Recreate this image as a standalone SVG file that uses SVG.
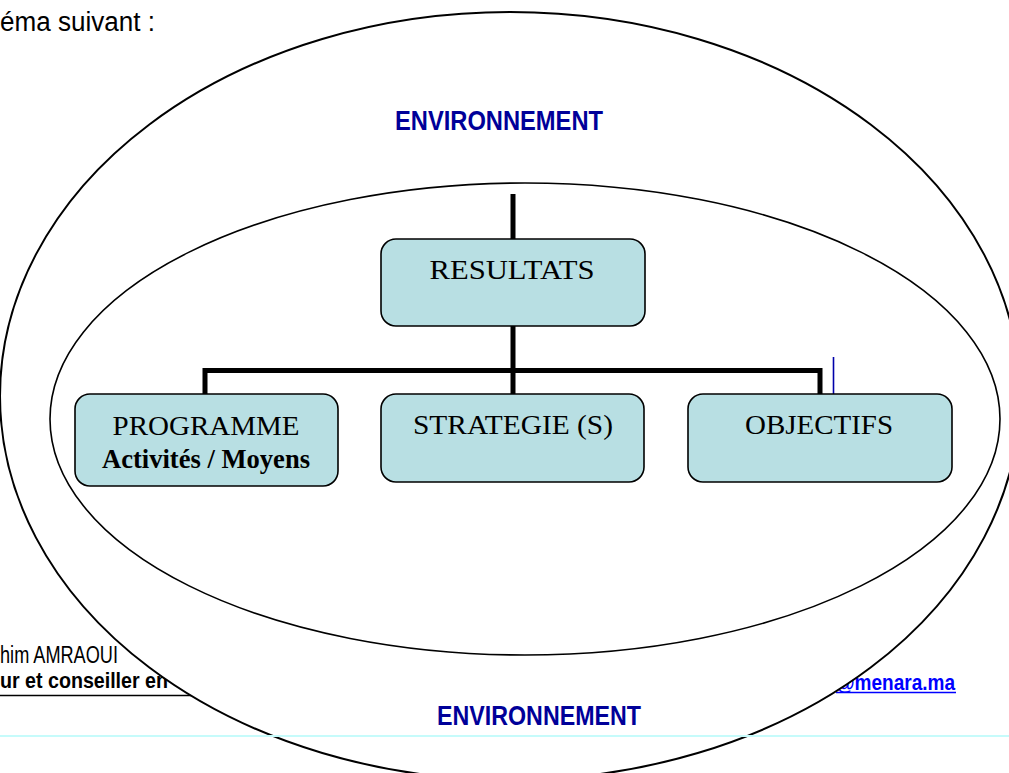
<svg xmlns="http://www.w3.org/2000/svg" width="1009" height="773" viewBox="0 0 1009 773">
<style>
.bg{font-family:"Liberation Sans",Arial,sans-serif;fill:#000}
.env{font-family:"Liberation Sans",Arial,sans-serif;font-weight:bold;font-size:27px;fill:#000099}
.box{fill:#b8dfe3;stroke:#000;stroke-width:1.6}
.lbl{font-family:"Liberation Serif","Times New Roman",serif;font-size:28px;fill:#000;text-anchor:middle}
.conn{stroke:#000;stroke-width:5;fill:none}
</style>
<rect width="1009" height="773" fill="#fff"/>
<g id="page-text">
<text class="bg" x="0" y="31" font-size="27" textLength="155" lengthAdjust="spacingAndGlyphs">éma suivant :</text>
<text class="bg" x="0" y="663" font-size="23" textLength="118" lengthAdjust="spacingAndGlyphs">him AMRAOUI</text>
<text class="bg" x="0" y="688" font-size="22" font-weight="bold" textLength="168" lengthAdjust="spacingAndGlyphs">ur et conseiller en</text>
<line x1="0" y1="695.5" x2="260" y2="695.5" stroke="#000" stroke-width="1.5"/>
<text x="836" y="690" font-family="'Liberation Sans',Arial,sans-serif" font-weight="bold" font-size="22" fill="#0000ff" textLength="119" lengthAdjust="spacingAndGlyphs">@menara.ma</text>
<line x1="836" y1="692.5" x2="956" y2="692.5" stroke="#0000ff" stroke-width="1.5"/>
</g>
<g id="outer-ellipse">
<ellipse cx="510" cy="396" rx="510" ry="384" fill="#fff" stroke="#000" stroke-width="2"/>
</g>
<g id="inner-ellipse">
<ellipse cx="525" cy="419" rx="475" ry="236" fill="none" stroke="#000" stroke-width="1.6"/>
</g>
<g id="connectors">
<line class="conn" x1="513" y1="194" x2="513" y2="240"/>
<line class="conn" x1="513" y1="326" x2="513" y2="394"/>
<polyline class="conn" points="205,394 205,370.5 820,370.5 820,394"/>
<line x1="833.5" y1="357" x2="833.5" y2="399" stroke="#0000aa" stroke-width="1.6"/>
</g>
<g id="resultats">
<rect class="box" x="381" y="239" width="264" height="87" rx="15"/>
<text class="lbl" x="512" y="279" textLength="165" lengthAdjust="spacingAndGlyphs">RESULTATS</text>
</g>
<g id="programme">
<rect class="box" x="75" y="394" width="263" height="92" rx="15"/>
<text class="lbl" x="206" y="435" textLength="187" lengthAdjust="spacingAndGlyphs">PROGRAMME</text>
<text class="lbl" x="206" y="468" font-size="23" font-weight="bold" textLength="208" lengthAdjust="spacingAndGlyphs">Activités / Moyens</text>
</g>
<g id="strategie">
<rect class="box" x="381" y="394" width="263" height="88" rx="15"/>
<text class="lbl" x="513" y="434" textLength="200" lengthAdjust="spacingAndGlyphs">STRATEGIE (S)</text>
</g>
<g id="objectifs">
<rect class="box" x="688" y="394" width="264" height="88" rx="15"/>
<text class="lbl" x="819" y="434" textLength="148" lengthAdjust="spacingAndGlyphs">OBJECTIFS</text>
</g>
<g id="env-labels">
<text class="env" x="395" y="130" textLength="208" lengthAdjust="spacingAndGlyphs">ENVIRONNEMENT</text>
<text class="env" x="437" y="725" textLength="204" lengthAdjust="spacingAndGlyphs">ENVIRONNEMENT</text>
</g>
<line x1="0" y1="736" x2="1009" y2="736" stroke="#c6fbfb" stroke-width="2"/>
</svg>
